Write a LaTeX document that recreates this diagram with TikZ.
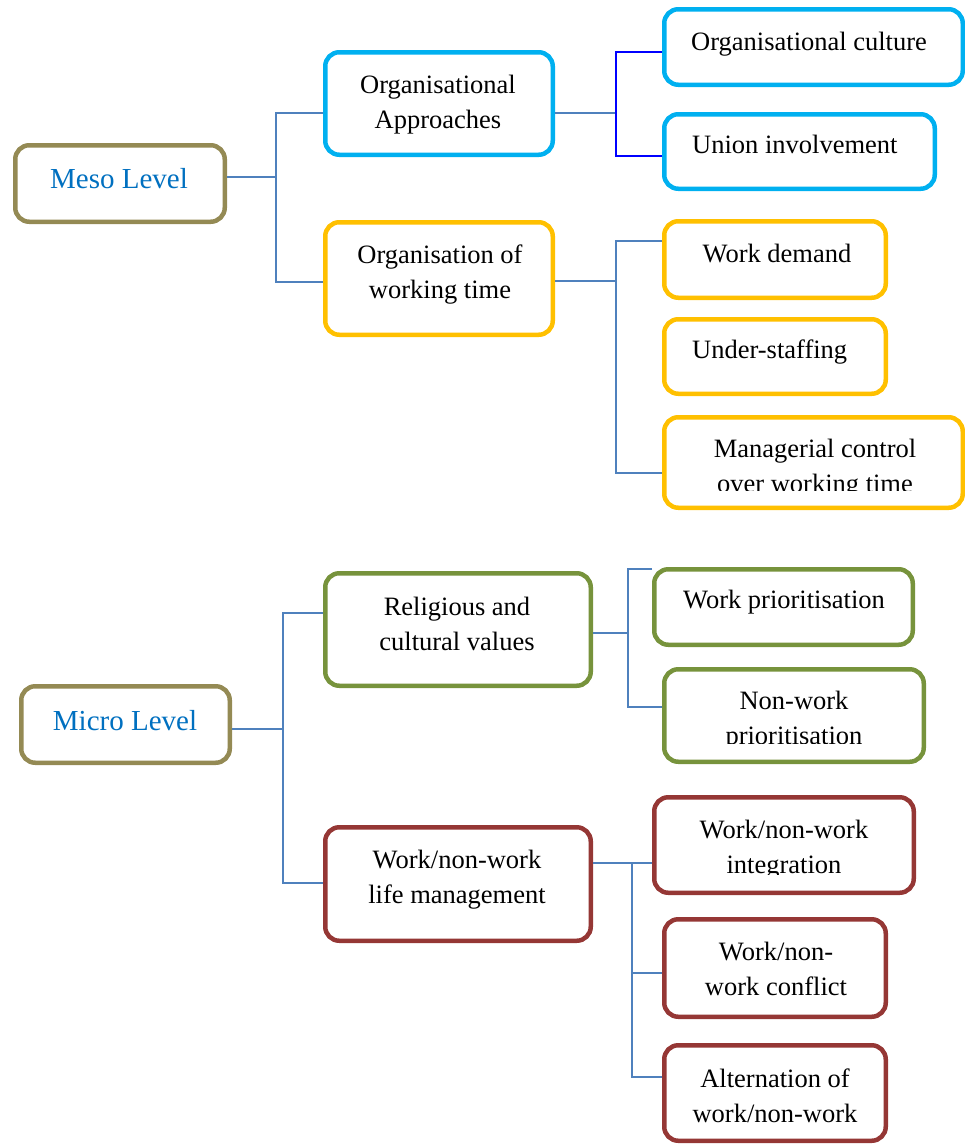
\documentclass[tikz,border=0pt]{standalone}
\usepackage{fontspec}
\setmainfont{Liberation Serif}
\definecolor{cyanb}{HTML}{00B0F0}
\definecolor{goldb}{HTML}{FFC000}
\definecolor{greenb}{HTML}{77933C}
\definecolor{redb}{HTML}{953735}
\definecolor{oliveb}{HTML}{948A54}
\definecolor{lvltext}{HTML}{0070C0}
\definecolor{connc}{HTML}{4F81BD}
\definecolor{pureblue}{HTML}{0000FF}
\newcommand{\twolines}[2]{\vtop{\baselineskip=35pt\halign{\hfil##\hfil\cr#1\cr#2\cr}}}
\begin{document}
\begin{tikzpicture}[x=1pt,y=-1pt,
  box/.style={draw=#1, line width=4.5pt, rounded corners=14pt, fill=white, inner sep=0pt},
  txt/.style={font=\fontsize{26.5}{35}\selectfont, inner sep=0pt, anchor=base},
  lvl/.style={font=\fontsize{29}{35}\selectfont, text=lvltext, inner sep=0pt, anchor=base},
  conn/.style={draw=connc, line width=1.5pt},
  connb/.style={draw=pureblue, line width=1.5pt}]
\useasboundingbox (0,0) rectangle (965,1144);

% ---------- boxes ----------
\node[box=oliveb, minimum width=209.5pt, minimum height=76.5pt] (meso) at (120,183.5) {};
\node[box=oliveb, minimum width=208.5pt, minimum height=76.5pt] (micro) at (125.5,724.5) {};
\node[box=cyanb, minimum width=227.5pt, minimum height=102.5pt] (oa) at (439,103.5) {};
\node[box=goldb, minimum width=227.5pt, minimum height=112.5pt] (owt) at (439,278.5) {};
\node[box=greenb, minimum width=265.5pt, minimum height=112.5pt] (rc) at (458,629.5) {};
\node[box=redb, minimum width=265.5pt, minimum height=113.5pt] (wnw) at (458,884) {};
\node[box=cyanb, minimum width=298.5pt, minimum height=75.5pt] (oc) at (813.5,47) {};
\node[box=cyanb, minimum width=270.5pt, minimum height=74.5pt] (ui) at (799.5,151.5) {};
\node[box=goldb, minimum width=221.5pt, minimum height=76.5pt] (wd) at (775,259.5) {};
\node[box=goldb, minimum width=221.5pt, minimum height=74.5pt] (us) at (775,356.5) {};
\node[box=goldb, minimum width=298.5pt, minimum height=90.5pt] (mc) at (813.5,462.5) {};
\node[box=greenb, minimum width=258.5pt, minimum height=75.5pt] (wp) at (783.5,607) {};
\node[box=greenb, minimum width=259.5pt, minimum height=92.5pt] (nwp) at (794,715.5) {};
\node[box=redb, minimum width=259.5pt, minimum height=95.5pt] (wnwi) at (784,845) {};
\node[box=redb, minimum width=221.5pt, minimum height=97.5pt] (wnwc) at (775,968) {};
\node[box=redb, minimum width=221.5pt, minimum height=95.5pt] (alt) at (775,1093) {};

% ---------- texts ----------
\node[lvl] (tmeso) at (119,188) {Meso Level};
\node[lvl] (tmicro) at (125,730) {Micro Level};
\node[txt] (toa) at (438,93) {\twolines{Organisational}{Approaches}};
\node[txt] (towt) at (440,263) {\twolines{Organisation of}{working time}};
\node[txt] (trc) at (457,615) {\twolines{Religious and}{cultural values}};
\node[txt] (twnw) at (457,868) {\twolines{Work/non-work}{life management}};
\node[txt, anchor=base west] (toc) at (691,50) {Organisational culture};
\node[txt, anchor=base west] (tui) at (692,153) {Union involvement};
\node[txt] (twd) at (777,262) {Work demand};
\node[txt, anchor=base west] (tus) at (692,358) {Under-staffing};
\begin{scope}
  \clip (665,420) rectangle (960,490);
  \node[txt] (tmc) at (815,457) {\twolines{Managerial control}{over working time}};
\end{scope}
\node[txt] (twp) at (784,608) {Work prioritisation};
\begin{scope}
  \clip (665,672) rectangle (922,743);
  \node[txt] (tnwp) at (794,709) {\twolines{Non-work}{prioritisation}};
\end{scope}
\begin{scope}
  \clip (656,799) rectangle (912,874);
  \node[txt] (twnwi) at (784,838) {\twolines{Work/non-work}{integration}};
\end{scope}
\node[txt] (twnwc) at (776,960) {\twolines{Work/non-}{work conflict}};
\node[txt] (talt) at (775,1087) {\twolines{Alternation of}{work/non-work}};

% ---------- connectors ----------
\coordinate (mj) at (276,177);
\coordinate (mjt) at (276,113);
\coordinate (mjb) at (276,282);
\draw[conn] (meso.east |- mj) -- (mj);
\draw[conn] (oa.west |- mjt) -- (mjt) -- (mjb) -- (owt.west |- mjb);

\coordinate (aj) at (616,113);
\coordinate (ajt) at (616,52);
\coordinate (ajb) at (616,156);
\draw[conn] (oa.east |- aj) -- (aj);
\draw[connb] (oc.west |- ajt) -- (ajt) -- (ajb) -- (ui.west |- ajb);

\coordinate (oj) at (616,281);
\coordinate (ojt) at (616,241);
\coordinate (ojb) at (616,473);
\draw[conn] (owt.east |- oj) -- (oj);
\draw[conn] (wd.west |- ojt) -- (ojt) -- (ojb) -- (mc.west |- ojb);

\coordinate (cj) at (283,729);
\coordinate (cjt) at (283,613);
\coordinate (cjb) at (283,883);
\draw[conn] (micro.east |- cj) -- (cj);
\draw[conn] (rc.west |- cjt) -- (cjt) -- (cjb) -- (wnw.west |- cjb);

\coordinate (rj) at (628,633);
\coordinate (rjt) at (628,569);
\coordinate (rjb) at (628,707);
\draw[conn] (rc.east |- rj) -- (rj);
\draw[conn] (wp.west |- rjt) -- (rjt) -- (rjb) -- (nwp.west |- rjb);

\coordinate (wj) at (632,863);
\coordinate (wjm) at (632,973);
\coordinate (wjb) at (632,1077);
\draw[conn] (wnw.east |- wj) -- (wnwi.west |- wj);
\draw[conn] (wj) -- (wjb) -- (alt.west |- wjb);
\draw[conn] (wjm) -- (wnwc.west |- wjm);
\end{tikzpicture}
\end{document}
